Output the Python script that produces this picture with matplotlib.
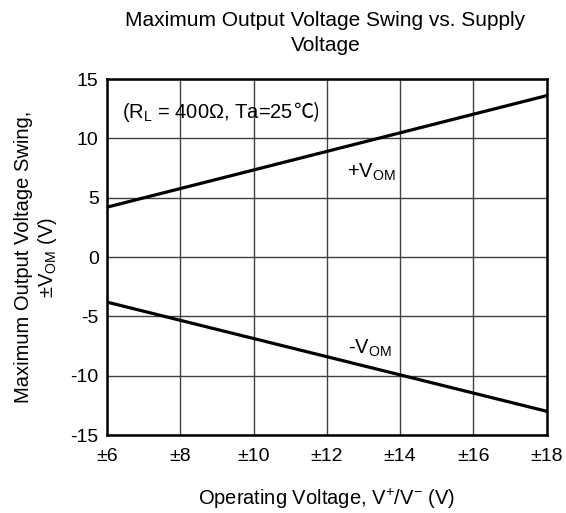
import matplotlib.pyplot as plt

plt.rcParams['font.family'] = ['Liberation Sans', 'DejaVu Sans']
plt.rcParams['axes.unicode_minus'] = False
plt.rcParams['mathtext.fontset'] = 'custom'
plt.rcParams['mathtext.rm'] = 'Liberation Sans'
plt.rcParams['mathtext.it'] = 'Liberation Sans'

# data
supply = [6, 18]
vom_pos = [4.2, 13.6]
vom_neg = [-3.8, -13.0]
xticks = [6, 8, 10, 12, 14, 16, 18]
xlabels = ['±6', '±8', '±10', '±12', '±14', '±16', '±18']
yticks = [-15, -10, -5, 0, 5, 10, 15]

fig = plt.figure(figsize=(5.66, 5.13), dpi=100)
ax = fig.add_axes([0.189, 0.152, 0.777, 0.694])

ax.plot(supply, vom_pos, color='black', lw=2.3)
ax.plot(supply, vom_neg, color='black', lw=2.3)

ax.set_xlim(6, 18)
ax.set_ylim(-15, 15)
ax.set_xticks(xticks)
ax.set_xticklabels(xlabels)
ax.set_yticks(yticks)
ax.set_yticklabels([str(v) for v in yticks])
ax.tick_params(length=0, labelsize=14, pad=6)
ax.tick_params(axis='x', pad=9)
ax.grid(True, color='#404040', lw=1)
for s in ax.spines.values():
    s.set_linewidth(1.8)

t = ax.text(6.4, 11.75, r'(R$_\mathregular{L}$ = 400$\Omega$, Ta=25', fontsize=14.5, va='baseline')
ax.annotate('℃)', xy=(1, 0), xycoords=t, va='bottom', fontsize=14.5,
            family=['Noto Sans CJK JP', 'DejaVu Sans'])
ax.text(12.55, 7.1, r'+V$_\mathregular{OM}$', fontsize=14.5, va='center')
ax.text(12.57, -7.7, r'-V$_\mathregular{OM}$', fontsize=14.5, va='center')

ax.set_xlabel('Operating Voltage, V$^{+}$/V$^{-}$ (V)', fontsize=14.5, labelpad=16)
ax.set_ylabel('Maximum Output Voltage Swing,\n±V$_\\mathregular{OM}$ (V)', fontsize=14.5, labelpad=8)
fig.text(0.575, 0.936, 'Maximum Output Voltage Swing vs. Supply\nVoltage', ha='center', va='center', fontsize=15, linespacing=1.4)

plt.savefig('out.png', dpi=100)
